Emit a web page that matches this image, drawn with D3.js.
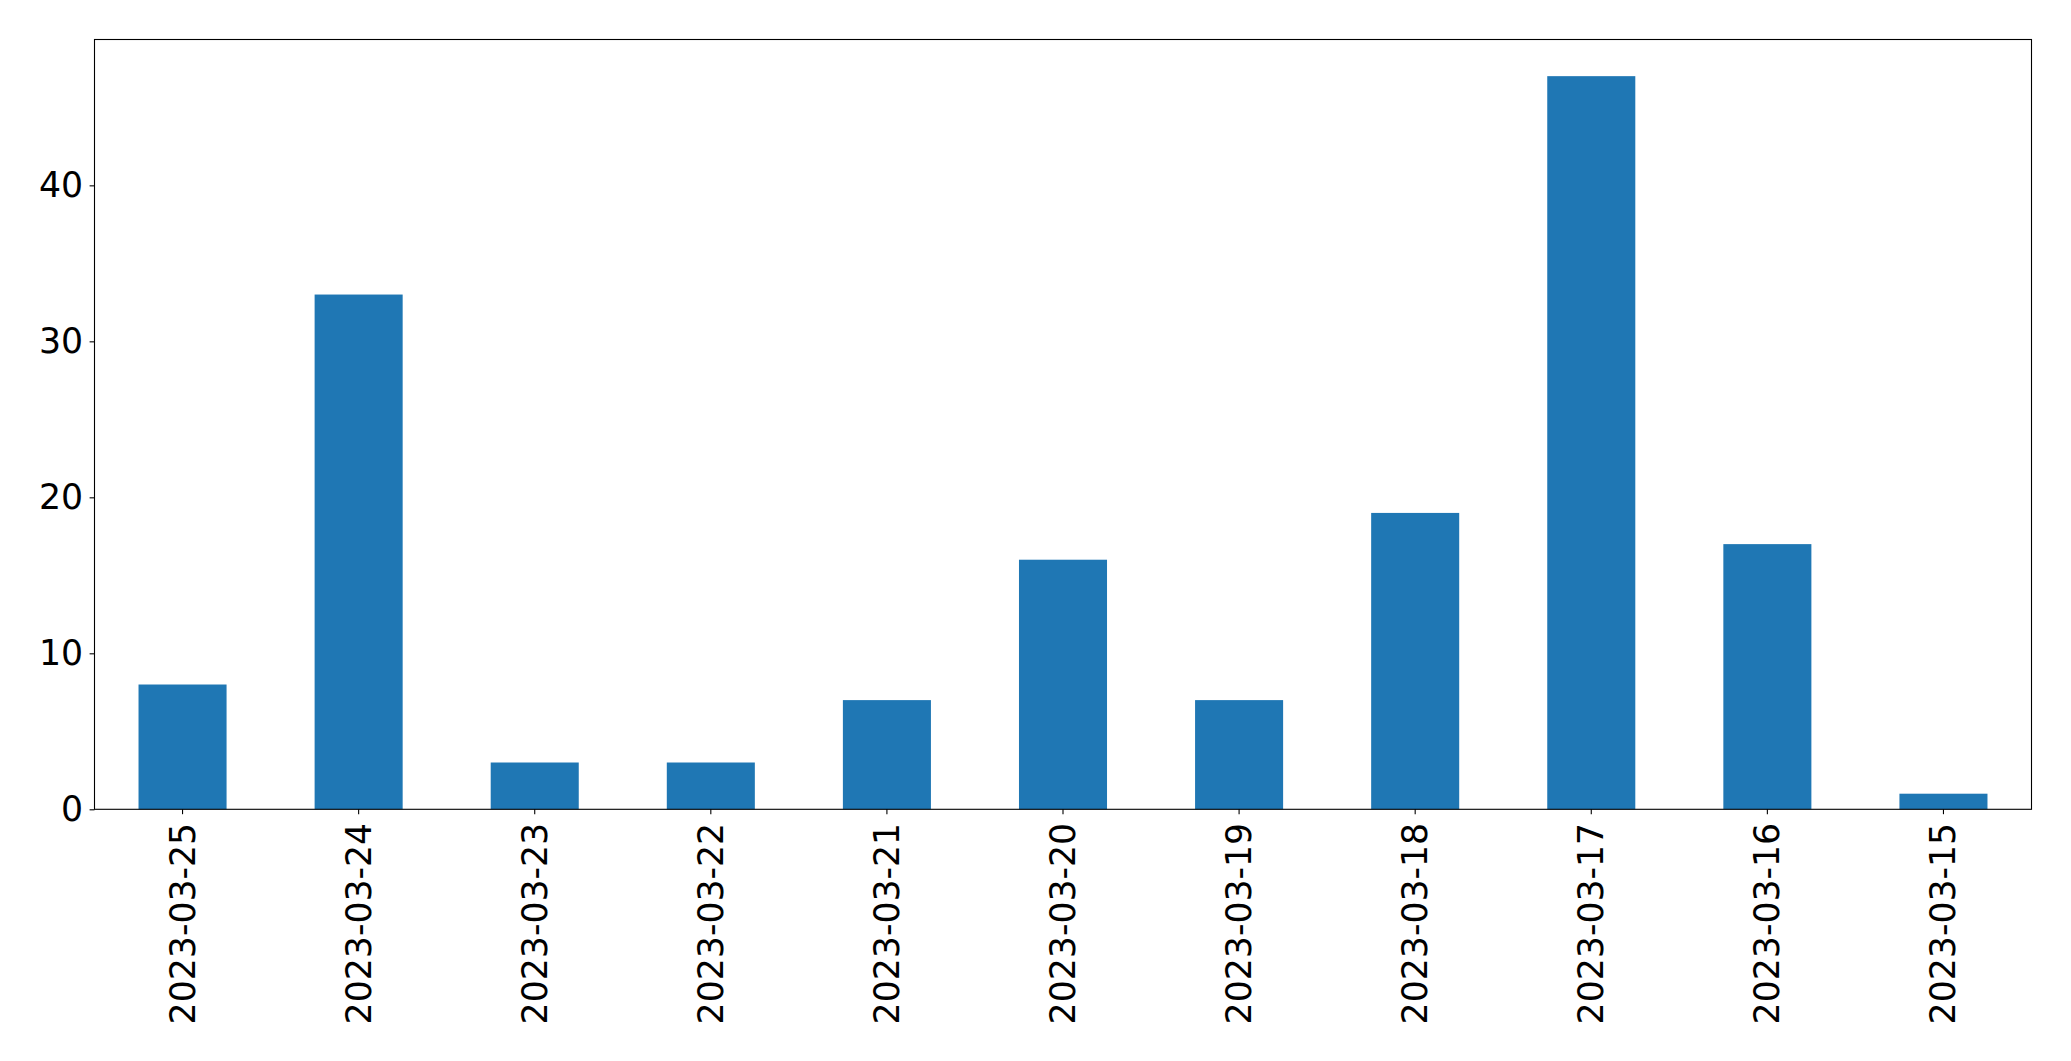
<!DOCTYPE html>
<html>
<head>
<meta charset="utf-8">
<script src="https://cdn.jsdelivr.net/npm/d3@7"></script>
<style>
  html, body { margin: 0; padding: 0; background: #fff; }
  svg { display: block; font-family: "DejaVu Sans", sans-serif; }
</style>
</head>
<body>
<svg id="chart" width="2071" height="1061"></svg>
<script>
const categories = ["2023-03-25","2023-03-24","2023-03-23","2023-03-22","2023-03-21","2023-03-20","2023-03-19","2023-03-18","2023-03-17","2023-03-16","2023-03-15"];
const values = [8, 33, 3, 3, 7, 16, 7, 19, 47, 17, 1];
const yTicks = [0, 10, 20, 30, 40];

(function () {
const svg = d3.select("#chart");
const mLeft = 94.5, mRight = 2031.5, mTop = 39.5, mBottom = 809.3;
const fontSize = 34.7;

const x = d3.scaleBand().domain(categories).range([mLeft, mRight]).paddingInner(0.5).paddingOuter(0.25);
const yMax = d3.max(values) * 1.05;
const y = d3.scaleLinear().domain([0, yMax]).range([mBottom, mTop]);

svg.append("g").selectAll("rect").data(values).join("rect")
  .attr("x", (d, i) => x(categories[i]))
  .attr("width", x.bandwidth())
  .attr("y", d => y(d))
  .attr("height", d => y(0) - y(d))
  .attr("fill", "#1f77b4");

// Y axis
const yAxis = svg.append("g").attr("transform", `translate(${mLeft},0)`)
  .call(d3.axisLeft(y).tickValues(yTicks).tickSize(4.9).tickPadding(6.5).tickFormat(d3.format("d")));
yAxis.select(".domain").remove();
yAxis.selectAll("line").attr("stroke", "#000").attr("stroke-width", 1.1);
yAxis.selectAll("text").attr("font-size", fontSize).attr("fill", "#000").attr("font-family", "DejaVu Sans");

// X axis
const xAxis = svg.append("g").attr("transform", `translate(0,${mBottom})`)
  .call(d3.axisBottom(x).tickSize(4.9).tickPadding(4.9));
xAxis.select(".domain").remove();
xAxis.selectAll("line").attr("stroke", "#000").attr("stroke-width", 1.1);
xAxis.selectAll("text")
  .attr("font-size", fontSize).attr("fill", "#000").attr("font-family", "DejaVu Sans")
  .attr("text-anchor", "end")
  .attr("dy", null)
  .attr("dominant-baseline", "central")
  .attr("transform", "translate(0,13.5) rotate(-90)")
  .attr("x", 0).attr("y", 0);

// Frame
svg.append("rect")
  .attr("x", mLeft).attr("y", mTop)
  .attr("width", mRight - mLeft).attr("height", mBottom - mTop)
  .attr("fill", "none").attr("stroke", "#000").attr("stroke-width", 1.1);
})();
</script>
</body>
</html>
